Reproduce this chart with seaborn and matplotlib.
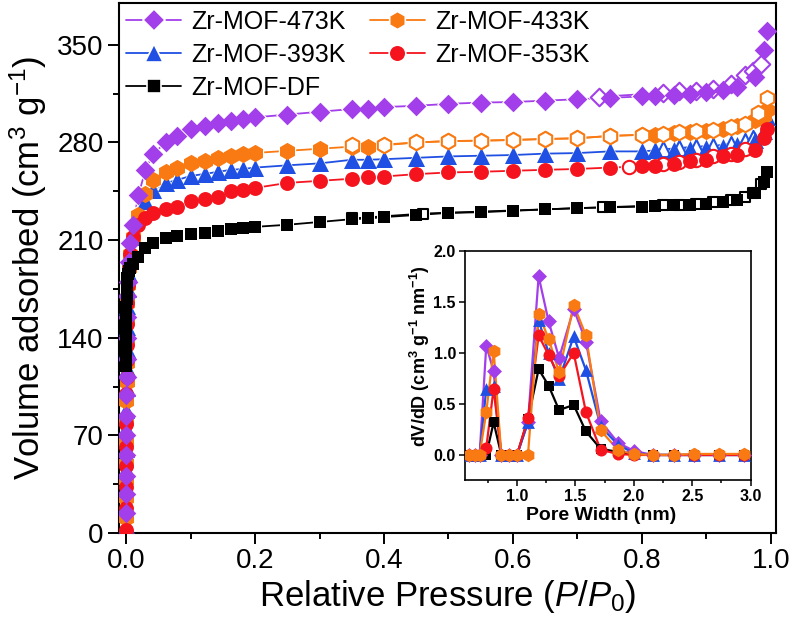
import numpy as np
import seaborn as sns
import matplotlib
matplotlib.use("Agg")
import matplotlib.pyplot as plt
from matplotlib.lines import Line2D
from matplotlib.ticker import MultipleLocator

# adsorption branch
p_ads = [0.0001, 0.0002, 0.0003, 0.0004, 0.0005, 0.0006, 0.0007, 0.0008, 0.001, 0.0012, 0.0015, 0.002, 0.003, 0.004, 0.006, 0.011,
         0.019, 0.03, 0.042, 0.062, 0.079, 0.10, 0.123, 0.143, 0.163, 0.182, 0.2, 0.25, 0.30, 0.35, 0.375, 0.40, 0.45, 0.50,
         0.55, 0.60, 0.65, 0.70, 0.75, 0.80, 0.82, 0.85, 0.875, 0.90, 0.925, 0.948, 0.975, 0.989, 0.994]
v_473 = [14, 28, 41, 56, 70, 84, 99, 112, 125, 140, 155, 170, 180, 194, 208, 221,
         242, 260, 272, 280, 285, 290, 292, 294, 295.5, 297, 298, 300, 302, 304, 304.1, 305.4, 306.3, 307.7,
         308.6, 309, 310, 311, 312, 313, 313.5, 314, 315, 316, 317.8, 320, 327, 346.6, 359.6]
v_433 = [11, 25, 38, 50, 65, 80, 95, 108, 122, 138, 152, 165, 178, 190, 200, 212,
         228, 243, 253, 259, 262, 265, 266.5, 269, 270, 272, 272.5, 274, 275.5, 277, 277, 278, 280, 281,
         281.3, 281.8, 282.5, 283, 284.7, 285.5, 285.5, 286.8, 287.6, 288.3, 290, 292, 296, 299, 303]
v_393 = [6, 20, 33, 46, 60, 75, 88, 104, 118, 132, 148, 163, 175, 186, 198, 212,
         228, 238, 246, 251, 253, 256, 257.5, 259, 260.4, 261, 262, 263.6, 265, 267.6, 267.6, 268, 269, 270,
         270.5, 271, 272, 272.4, 273.6, 273.6, 274.3, 274.7, 275.4, 276, 276.6, 278, 282, 288, 298]
v_353 = [2, 18, 33, 48, 62, 78, 100, 112, 124, 135, 150, 165, 178, 190, 200, 212,
         221, 226, 229.5, 232, 234, 237.7, 239.5, 241, 245, 246, 247.4, 251, 252.5, 254, 255, 255.6, 257.3, 258.5,
         259, 259.7, 260.4, 261, 262, 262.8, 263.3, 264.7, 266.4, 267.6, 270, 271, 274.7, 283, 290]
v_df = [120, 127, 134, 141, 148, 155, 162, 168, 172, 176, 180, 183, 186, 188, 190, 193,
        198, 204, 208, 211.5, 213, 214.5, 215.4, 216.8, 218, 218.8, 219.5, 221, 223, 225, 225.5, 226.5, 228, 229.5,
        230, 231, 232, 233, 233.5, 234, 234.5, 235, 235.5, 236, 237.5, 239, 243.8, 252, 259]

# desorption branch
p_des_473 = [0.733, 0.832, 0.857, 0.883, 0.91, 0.938, 0.96, 0.972, 0.985]
v_des_473 = [312.7, 315.5, 316.6, 317, 318, 322, 328.5, 331, 336]
p_des_433 = [0.35, 0.40, 0.45, 0.50, 0.55, 0.60, 0.65, 0.70, 0.75, 0.80, 0.832, 0.857, 0.883, 0.91, 0.938, 0.96, 0.98, 0.994]
v_des_433 = [278, 278.5, 280, 281, 281.3, 281.8, 282.5, 283, 284.7, 285.5, 286.3, 287.3, 288, 289, 291, 293, 301, 312]
p_des_393 = [0.832, 0.857, 0.883, 0.91, 0.938, 0.96, 0.972]
v_des_393 = [275, 276, 277, 277.5, 279, 281, 283]
p_des_353 = [0.78, 0.832, 0.857, 0.883, 0.91, 0.938, 0.96]
v_des_353 = [262.5, 264.5, 266, 267.5, 270, 272, 275]
p_des_df = [0.35, 0.46, 0.74, 0.832, 0.857, 0.883, 0.91, 0.938, 0.96, 0.972, 0.985]
v_des_df = [225.5, 229, 233.5, 235, 235.5, 236, 237, 239, 241, 244, 250]

# pore size distribution
width = [0.585, 0.64, 0.68, 0.737, 0.80, 0.866, 0.93, 1.0, 1.094, 1.185, 1.27, 1.36, 1.485, 1.59, 1.716, 1.864, 2.0, 2.163, 2.34, 2.514, 2.73, 2.94]
psd_473 = [0, 0, 0, 1.07, 0.82, 0, 0, 0, 0.32, 1.75, 1.31, 0.95, 1.43, 1.11, 0.33, 0.12, 0.04, 0, 0, 0, 0, 0]
psd_433 = [0, 0, 0, 0.42, 1.02, 0, 0, 0, 0, 1.38, 1.14, 0.81, 1.47, 1.17, 0.24, 0.05, 0.01, 0, 0, 0.01, 0.01, 0.01]
psd_393 = [0, 0, 0, 0.65, 0.68, 0, 0, 0, 0.32, 1.32, 1.0, 0.74, 1.16, 0.83, 0.28, 0.10, 0.02, 0, 0, 0, 0, 0]
psd_353 = [0, 0, 0, 0.07, 0.65, 0, 0, 0, 0.36, 1.17, 0.98, 0.77, 1.0, 0.42, 0.05, 0.01, 0, 0, 0, 0, 0, 0]
psd_df = [0, 0, 0, 0, 0.32, 0, 0, 0, 0.35, 0.84, 0.68, 0.44, 0.49, 0.23, 0.06, 0.03, 0.01, 0, 0, 0, 0, 0]

names = ["Zr-MOF-473K", "Zr-MOF-433K", "Zr-MOF-393K", "Zr-MOF-353K", "Zr-MOF-DF"]
purple, orange, blue, red, black = "#A23FEA", "#F97A12", "#1F4FE3", "#F5141E", "#000000"

sns.set_theme(style="ticks", rc={"text.color": "black", "axes.labelcolor": "black", "axes.edgecolor": "black",
                                 "xtick.color": "black", "ytick.color": "black"})
plt.rcParams["font.family"] = ["Liberation Sans", "DejaVu Sans"]
plt.rcParams["mathtext.fontset"] = "custom"
plt.rcParams["mathtext.rm"] = "Liberation Sans"
plt.rcParams["mathtext.it"] = "Liberation Sans:italic"
plt.rcParams["mathtext.bf"] = "Liberation Sans:bold"

W, H = 793, 619
fig = plt.figure(figsize=(W / 100, H / 100), dpi=100)
ax = fig.add_axes([119 / W, 1 - 533 / H, (776 - 119) / W, 530 / H])
inset = fig.add_axes([465 / W, 1 - 480 / H, (750.7 - 465) / W, (480 - 250.7) / H])


def branch(a, x, y, color, marker, s, open_marks=False, z=3, halo=1.35, lw=1.3, edge=1.5):
    # line, then a white patch so the line stops short of the marker, like Origin does
    sns.lineplot(x=x, y=y, ax=a, color=color, lw=lw, sort=False, estimator=None, legend=False, zorder=1)
    if halo:
        sns.scatterplot(x=x, y=y, ax=a, color="white", marker=marker, s=s * halo, linewidth=0, legend=False, zorder=1.5)
    if open_marks:
        pts = sns.scatterplot(x=x, y=y, ax=a, color=color, marker=marker, s=s * 0.8, linewidth=edge, legend=False, zorder=z)
        pts.collections[-1].set_facecolor("white")
        pts.collections[-1].set_edgecolor(color)
    else:
        sns.scatterplot(x=x, y=y, ax=a, color=color, marker=marker, s=s, linewidth=0, legend=False, zorder=z)


# main isotherms, later ones sit on top
branch(ax, p_des_393, v_des_393, blue, "^", 150, open_marks=True, z=2.1)
branch(ax, p_ads, v_393, blue, "^", 150, z=3.0)
branch(ax, p_ads, v_433, orange, "h", 155, z=3.1)
branch(ax, p_des_433, v_des_433, orange, "h", 155, open_marks=True, z=3.15)
branch(ax, p_des_353, v_des_353, red, "o", 115, open_marks=True, z=3.2)
branch(ax, p_ads, v_353, red, "o", 115, z=3.3)
branch(ax, p_des_473, v_des_473, purple, "D", 100, open_marks=True, z=3.4)
branch(ax, p_ads, v_473, purple, "D", 100, z=3.5)
branch(ax, p_des_df, v_des_df, black, "s", 78, open_marks=True, z=3.6)
branch(ax, p_ads, v_df, black, "s", 78, z=3.7)

ax.set_xlim(-0.0109, 1.0078)
ax.set_ylim(0, 380)
ax.xaxis.set_major_locator(MultipleLocator(0.2))
ax.xaxis.set_minor_locator(MultipleLocator(0.1))
ax.yaxis.set_major_locator(MultipleLocator(70))
ax.yaxis.set_minor_locator(MultipleLocator(35))
ax.tick_params(which="major", length=8, width=1.4, labelsize=20, pad=3)
ax.tick_params(which="minor", length=4.5, width=1.4)
ax.set_xlabel(r"Relative Pressure ($\mathit{P}$/$\mathit{P_0}$)", fontsize=25, labelpad=3)
ax.set_ylabel(r"Volume adsorbed (cm$^{3}$ g$^{-1}$)", fontsize=25, labelpad=6)
for sp in ax.spines.values():
    sp.set_linewidth(1.5)

handles = [Line2D([], [], color=c, marker=m, ms=ms, mew=1.2, mec="white", lw=1.3)
           for c, m, ms in [(purple, "D", 11.5), (blue, "^", 13), (black, "s", 10), (orange, "h", 13), (red, "o", 12)]]
labels = [names[0], names[2], names[4], names[1], names[3]]
ax.legend(handles, labels, ncol=2, frameon=False, fontsize=18, loc="upper left", bbox_to_anchor=(0.0, 1.0),
          borderaxespad=0.0, handlelength=2.2, handletextpad=0.41, columnspacing=0.96, labelspacing=0.36, borderpad=0.28)

# inset pore size distribution
for y, c, m, s in [(psd_df, black, "s", 56), (psd_473, purple, "D", 58), (psd_393, blue, "^", 85),
                   (psd_353, red, "o", 75), (psd_433, orange, "h", 95)]:
    sns.lineplot(x=width, y=y, ax=inset, color=c, lw=1.6, sort=False, estimator=None, legend=False)
    sns.scatterplot(x=width, y=y, ax=inset, color=c, marker=m, s=s, linewidth=0, legend=False, zorder=3)

inset.set_xlim(0.555, 3.0)
inset.set_ylim(-0.245, 2.0)
inset.xaxis.set_major_locator(MultipleLocator(0.5))
inset.xaxis.set_minor_locator(MultipleLocator(0.25))
inset.yaxis.set_major_locator(MultipleLocator(0.5))
inset.tick_params(which="major", length=4, width=1.1, labelsize=11.5, pad=2.5)
inset.tick_params(which="minor", length=2.5, width=1.1)
for lab in inset.get_xticklabels() + inset.get_yticklabels():
    lab.set_fontweight("bold")
inset.set_xlabel("Pore Width (nm)", fontsize=14, fontweight="bold", labelpad=2, x=0.475)
inset.set_ylabel(r"dV/dD (cm$^{\mathbf{3}}$ g$^{\mathbf{-1}}$ nm$^{\mathbf{-1}}$)", fontsize=13, fontweight="bold", labelpad=1, y=0.54)
for sp in inset.spines.values():
    sp.set_linewidth(1.2)

fig.savefig("out.png", dpi=100)
